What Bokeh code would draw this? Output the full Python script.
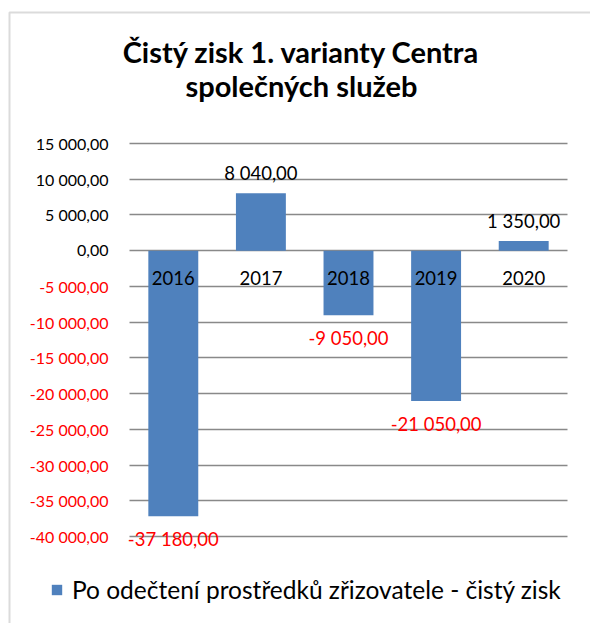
from bokeh.plotting import figure
from bokeh.models import (ColumnDataSource, Range1d, LabelSet, Label, Grid,
                          Legend, LegendItem, FixedTicker, BoxAnnotation)
from bokeh.core.properties import value
from bokeh.embed import file_html
from bokeh.resources import INLINE

# ---- data ----
years = ["2016", "2017", "2018", "2019", "2020"]
values = [-37180, 8040, -9050, -21050, 1350]
yticks = [15000, 10000, 5000, 0, -5000, -10000, -15000, -20000,
          -25000, -30000, -35000, -40000]
title_lines = ["Čistý zisk 1. varianty Centra", "společných služeb"]
series_name = "Po odečtení prostředků zřizovatele - čistý zisk"


def fmt(v):
    s = f"{abs(v):,.2f}".replace(",", " ").replace(".", ",")
    return ("-" if v < 0 else "") + s


FONT = "Lato"
BLUE = "#4F81BD"
RED = "#FF0000"
GRID = "#898989"

# ---- layout (pixels) ----
W, H = 590, 623
PL, PR, PT, PB = 129, 567, 143, 536          # plot area edges on the canvas
n = len(years)
ymin, ymax = min(yticks), max(yticks)
xpx = (PR - PL) / n                          # px per category
ypx = (PB - PT) / (ymax - ymin)              # px per value unit

x_range = Range1d(-PL / xpx, n + (W - PR) / xpx)
y_range = Range1d(ymin - (H - PB) / ypx, ymax + PT / ypx)

p = figure(width=W, height=H, x_range=x_range, y_range=y_range,
           x_axis_location=None, y_axis_location=None,
           output_backend="svg", toolbar_location=None, min_border=0)
p.outline_line_color = None
p.background_fill_color = "white"
p.border_fill_color = "white"
for g in p.grid:
    g.visible = False

grid = Grid(dimension=1, ticker=FixedTicker(ticks=yticks),
            grid_line_color=GRID, grid_line_width=1.5)
if "cross_bounds" in Grid.properties():
    grid.cross_bounds = (0, n)
p.add_layout(grid, "center")

xs = [i + 0.5 for i in range(n)]
src = ColumnDataSource(dict(x=xs, year=years, value=values))
bars = p.vbar(x="x", top="value", bottom=0, width=0.57, source=src,
              fill_color=BLUE, line_color=None)

# data labels
pos = ColumnDataSource(dict(
    x=[x for x, v in zip(xs, values) if v >= 0],
    value=[v for v in values if v >= 0],
    text=[fmt(v) for v in values if v >= 0]))
neg = ColumnDataSource(dict(
    x=[x for x, v in zip(xs, values) if v < 0],
    value=[v for v in values if v < 0],
    text=[fmt(v) for v in values if v < 0]))
p.add_layout(LabelSet(x="x", y="value", text="text", source=pos,
                      text_align="center", text_baseline="bottom", y_offset=9,
                      text_font=value(FONT), text_font_size=value("18.5px"),
                      text_color="black"))
p.add_layout(LabelSet(x="x", y="value", text="text", source=neg,
                      text_align="center", text_baseline="top", y_offset=-12,
                      text_font=value(FONT), text_font_size=value("18.5px"),
                      text_color=RED))

# category labels just below the zero line
cat = ColumnDataSource(dict(x=xs, zero=[0] * n, text=years))
p.add_layout(LabelSet(x="x", y="zero", text="text", source=cat,
                      text_align="center", text_baseline="middle", y_offset=-27,
                      text_font=value(FONT), text_font_size=value("18.5px"),
                      text_color="black"))

# y tick labels
tk = ColumnDataSource(dict(
    x=[108] * len(yticks), y=yticks, text=[fmt(t) for t in yticks],
    color=[RED if t < 0 else "black" for t in yticks]))
p.add_layout(LabelSet(x="x", y="y", x_units="screen", text="text", source=tk,
                      text_align="right", text_baseline="middle",
                      text_font=value(FONT), text_font_size=value("16px"),
                      text_color="color"))

# title
p.add_layout(Label(x=301, y=H - 51, x_units="screen", y_units="screen",
                   text=title_lines[0], text_align="center", text_baseline="middle",
                   text_font=FONT, text_font_style="bold", text_font_size="29px",
                   text_color="black"))
p.add_layout(Label(x=301, y=H - 85, x_units="screen", y_units="screen",
                   text=title_lines[1], text_align="center", text_baseline="middle",
                   text_font=FONT, text_font_style="bold", text_font_size="29px",
                   text_color="black"))

# chart border (continues past the right and bottom edges)
p.add_layout(BoxAnnotation(left=9, right=W + 20, top=H - 12, bottom=-20,
                           left_units="screen", right_units="screen",
                           top_units="screen", bottom_units="screen",
                           fill_alpha=0, line_color=GRID, line_width=2))

legend = Legend(items=[LegendItem(label=series_name, renderers=[bars])],
                location=(50, 19), orientation="horizontal",
                glyph_width=13, glyph_height=13, label_standoff=9,
                label_text_font=FONT, label_text_font_size="24.5px",
                label_text_color="black",
                padding=0, margin=0, spacing=0,
                border_line_color=None, background_fill_alpha=0)
p.add_layout(legend)

open("out.html", "w").write(file_html(p, INLINE))
